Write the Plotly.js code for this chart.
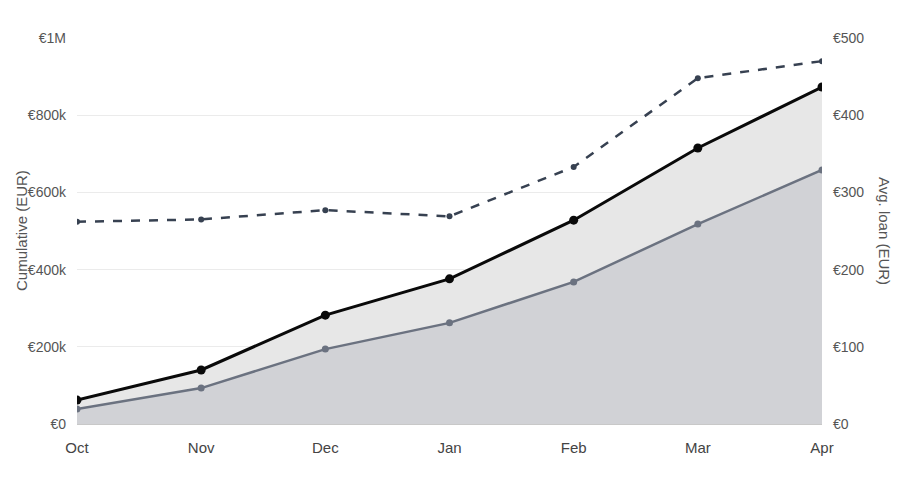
<!DOCTYPE html>
<html>
<head>
<meta charset="utf-8">
<script src="https://cdn.plot.ly/plotly-3.0.1.min.js"></script>
<style>
  html, body { margin: 0; padding: 0; background: #fff; }
  #chart { width: 900px; height: 489px; }
</style>
</head>
<body>
<div id="chart"></div>
<script>
// months on the x axis
const months = ["Oct", "Nov", "Dec", "Jan", "Feb", "Mar", "Apr"];
// cumulative totals (EUR), left axis
const cumulativeTotal = [62000, 140000, 282000, 376000, 528000, 715000, 873000];
const cumulativeRepaid = [39000, 93000, 194000, 262000, 368000, 518000, 658000];
// average loan size (EUR), right axis
const avgLoan = [262, 265, 277, 269, 333, 448, 470];

const traces = [
  {
    x: months,
    y: cumulativeTotal,
    type: "scatter",
    mode: "lines+markers",
    fill: "tozeroy",
    fillcolor: "#e7e7e7",
    line: { color: "#0a0a0a", width: 3 },
    marker: { color: "#0a0a0a", size: 9 },
  },
  {
    x: months,
    y: cumulativeRepaid,
    type: "scatter",
    mode: "lines+markers",
    fill: "tozeroy",
    fillcolor: "#d1d2d6",
    line: { color: "#6b7280", width: 2.5 },
    marker: { color: "#6b7280", size: 7 },
  },
  {
    x: months,
    y: avgLoan,
    yaxis: "y2",
    type: "scatter",
    mode: "lines+markers",
    line: { color: "#374151", width: 2.5, dash: "dash" },
    marker: { color: "#374151", size: 6 },
  },
];

// axis titles drawn as annotations so both can sit where the reference has them
const axisTitle = (text, x, shift, angle) => ({
  text: text,
  xref: "paper",
  yref: "paper",
  x: x,
  y: 0.5,
  xshift: shift,
  xanchor: "center",
  yanchor: "middle",
  textangle: angle,
  showarrow: false,
  font: { size: 15, color: "#555" },
});

const layout = {
  width: 900,
  height: 489,
  margin: { l: 77, r: 78, t: 38, b: 65 },
  paper_bgcolor: "#fff",
  plot_bgcolor: "#fff",
  showlegend: false,
  font: { family: "Liberation Sans, Arial, sans-serif", color: "#555" },
  xaxis: {
    type: "category",
    range: [0, 6],
    showgrid: false,
    zeroline: false,
    showline: false,
    ticks: "",
    ticklabelstandoff: 13,
    tickfont: { size: 15, color: "#444" },
  },
  yaxis: {
    range: [0, 1000000],
    dtick: 200000,
    tickprefix: "€",
    tickformat: "~s",
    gridcolor: "#ebebeb",
    zeroline: true,
    zerolinecolor: "#c8c8c8",
    zerolinewidth: 1,
    tickfont: { size: 14, color: "#555" },
    ticklabelstandoff: 10,
  },
  yaxis2: {
    overlaying: "y",
    side: "right",
    range: [0, 500],
    dtick: 100,
    tickprefix: "€",
    showgrid: false,
    zeroline: false,
    tickfont: { size: 14, color: "#555" },
    ticklabelstandoff: 10,
  },
  annotations: [
    axisTitle("Cumulative (EUR)", 0, -56, -90),
    axisTitle("Avg. loan (EUR)", 1, 63, 90),
  ],
};

Plotly.newPlot("chart", traces, layout, { displayModeBar: false, staticPlot: true });
</script>
</body>
</html>
